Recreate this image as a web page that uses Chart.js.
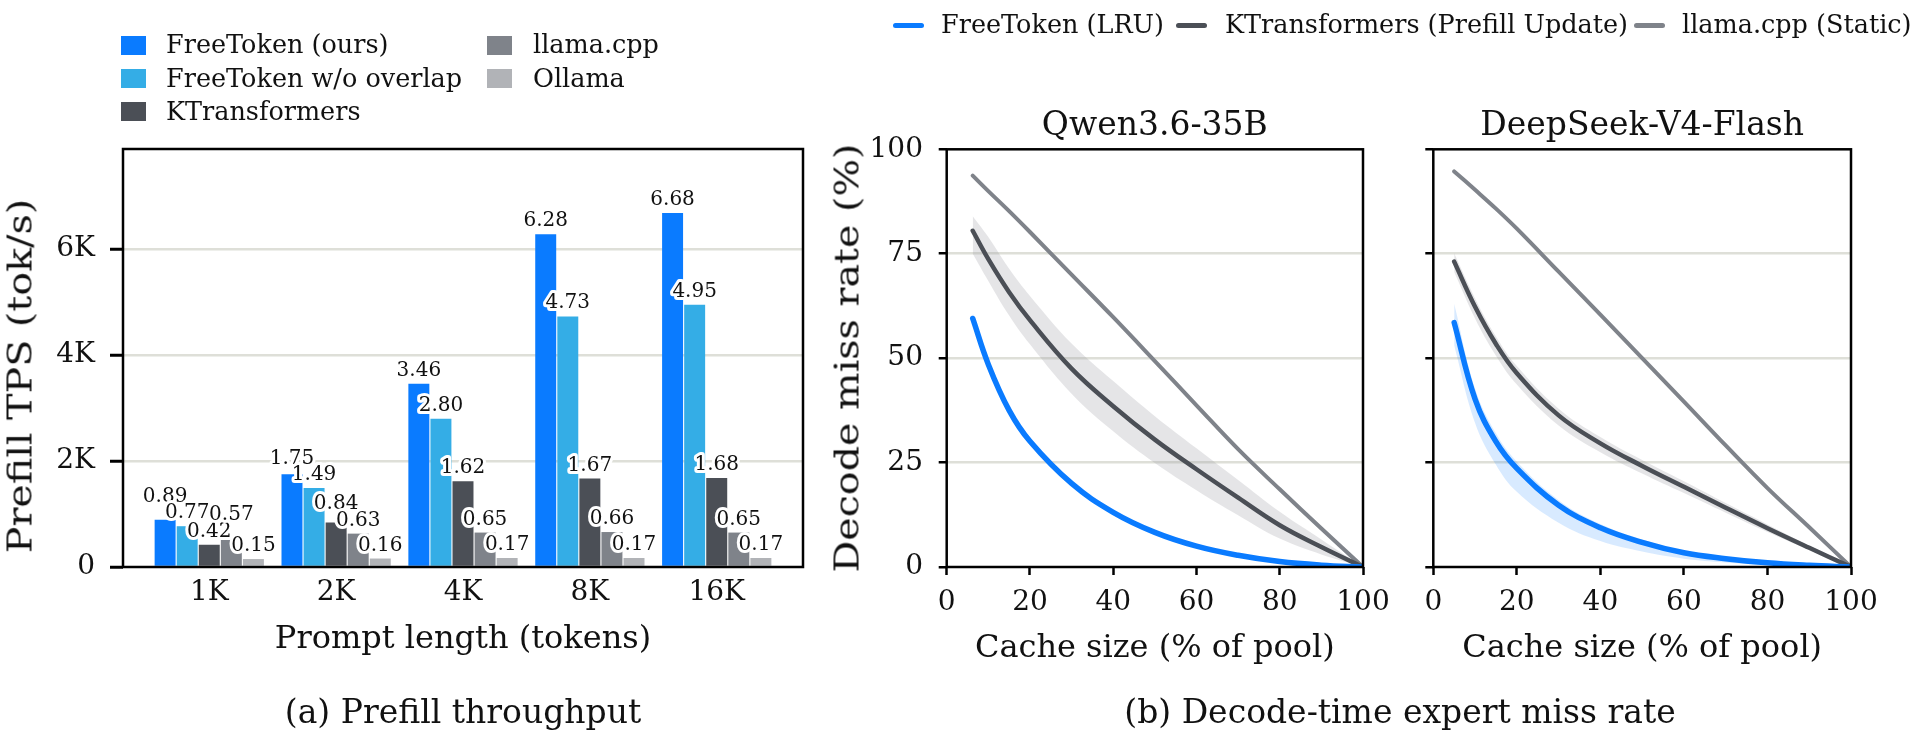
<!DOCTYPE html>
<html><head><meta charset="utf-8">
<script src="https://cdn.jsdelivr.net/npm/chart.js@4.4.1/dist/chart.umd.min.js"></script>
<style>
html,body{margin:0;padding:0;background:#fff;width:1920px;height:735px;overflow:hidden;font-family:"DejaVu Serif",serif;color:#111;}
canvas{position:absolute;top:0;}
.lt{position:absolute;font-size:25.5px;line-height:25.5px;white-space:nowrap;}
.sq{position:absolute;width:25px;height:19px;}
.hl{position:absolute;width:31px;height:5px;border-radius:3px;}
.cap{position:absolute;font-size:33px;line-height:1;white-space:nowrap;transform:translate(-50%,-50%);}
.yt{position:absolute;font-size:33px;line-height:1;white-space:nowrap;transform:translate(-50%,-50%) rotate(-90deg) scaleX(1.2);}
</style></head>
<body>
<canvas id="cA" width="840" height="735" style="left:0px"></canvas>
<canvas id="cB1" width="600" height="735" style="left:820px"></canvas>
<canvas id="cB2" width="540" height="735" style="left:1380px"></canvas>
<div id="legA"></div>
<div id="legB"></div>
<div class="yt" style="left:20px;top:376px">Prefill TPS (tok/s)</div>
<div class="yt" style="left:847px;top:358px">Decode miss rate (%)</div>
<div class="cap" style="left:463px;top:711px">(a) Prefill throughput</div>
<div class="cap" style="left:1400px;top:711px">(b) Decode-time expert miss rate</div>
<script>
// ---------- data: panel (a) ----------
const prompts = ['1K','2K','4K','8K','16K'];
const freeToken = [0.89, 1.75, 3.46, 6.28, 6.68];
const freeTokenNoOverlap = [0.77, 1.49, 2.80, 4.73, 4.95];
const kTransformers = [0.42, 0.84, 1.62, 1.67, 1.68];
const llamaCpp = [0.57, 0.63, 0.65, 0.66, 0.65];
const ollama = [0.15, 0.16, 0.17, 0.17, 0.17];
const prefillTicks = [0, 2, 4, 6];
const barNames = ['FreeToken (ours)', 'FreeToken w/o overlap', 'KTransformers', 'llama.cpp', 'Ollama'];

// ---------- data: panel (b) ----------
const cacheTicks = [0, 20, 40, 60, 80, 100];
const missTicks = [0, 25, 50, 75, 100];
const lineNames = ['FreeToken (LRU)', 'KTransformers (Prefill Update)', 'llama.cpp (Static)'];

const qwenX      = [6.25, 10, 15, 20, 30, 40, 50, 60, 70, 80, 90, 100];
const qwenLRU    = [59.5, 48.5, 37.5, 30.1, 20.0, 13.1, 8.3, 5.0, 2.8, 1.3, 0.45, 0];
const qwenLRUHi  = [60.8, 49.6, 38.5, 31.0, 20.7, 13.6, 8.7, 5.3, 3.0, 1.4, 0.5, 0];
const qwenLRULo  = [58.6, 47.6, 36.7, 29.3, 19.4, 12.6, 7.9, 4.7, 2.6, 1.2, 0.4, 0];
const qwenKT     = [80.5, 73.7, 65.8, 59.1, 47.5, 38.5, 30.5, 23.4, 16.6, 10.0, 4.8, 0];
const qwenKTHi   = [84.0, 79.0, 71.4, 64.9, 53.5, 44.5, 36.1, 28.4, 20.8, 13.2, 6.6, 0];
const qwenKTLo   = [75.0, 68.5, 60.2, 53.3, 41.5, 32.5, 24.9, 18.4, 12.4, 6.8, 3.0, 0];
const qwenLlama  = [93.7, 90.0, 85.2, 80.2, 70.0, 59.8, 49.3, 38.7, 28.2, 18.6, 9.2, 0];

const dsX        = [5, 10, 15, 20, 30, 40, 50, 60, 70, 80, 90, 100];
const dsLRU      = [58.5, 40.2, 30.0, 23.6, 14.8, 9.4, 5.9, 3.4, 2.0, 1.0, 0.4, 0];
const dsLRUHi    = [63.0, 42.7, 32.0, 25.2, 16.0, 10.3, 6.6, 3.9, 2.3, 1.2, 0.5, 0];
const dsLRULo    = [53.0, 34.5, 24.5, 18.0, 10.6, 6.2, 3.7, 2.0, 1.1, 0.5, 0.2, 0];
const dsKT       = [73.1, 62.3, 53.4, 46.4, 36.3, 29.6, 24.2, 19.2, 14.2, 9.3, 4.6, 0];
const dsKTHi     = [75.1, 64.3, 55.2, 48.1, 37.9, 31.1, 25.6, 20.5, 15.3, 10.2, 5.1, 0];
const dsKTLo     = [70.6, 59.5, 50.6, 43.7, 33.9, 27.5, 22.4, 17.7, 13.0, 8.4, 4.1, 0];
const dsLlama    = [94.7, 90.3, 85.8, 81.0, 70.7, 60.4, 50.0, 39.6, 29.1, 18.9, 9.5, 0];

// ---------- styles ----------
const FONT = '"DejaVu Serif", serif';
const barColors = ['#0a7bff', '#34ade6', '#4b4f56', '#7f838a', '#b1b3b7'];
const lineColors = ['#0a7bff', '#4b4f56', '#7f838a'];
const GRID = '#dedfd8';
const NONE = 'rgba(0,0,0,0)';
Chart.defaults.font.family = FONT;
Chart.defaults.color = '#111';

// ---------- legends (HTML) ----------
(function(){
  const legA = document.getElementById('legA');
  const rowsY = [45, 78.3, 111.7];
  barNames.forEach((name, k) => {
    const col = k < 3 ? 0 : 1, row = k < 3 ? k : k - 3;
    const sx = col === 0 ? 121 : 487, tx = col === 0 ? 166 : 533;
    const cy = rowsY[row];
    legA.insertAdjacentHTML('beforeend',
      `<div class="sq" style="left:${sx}px;top:${cy-9.5}px;background:${barColors[k]}"></div>` +
      `<div class="lt" style="left:${tx}px;top:${cy-12.75}px">${name}</div>`);
  });
  const legB = document.getElementById('legB');
  const hx = [893, 1176, 1634], tx = [941, 1225, 1682];
  lineNames.forEach((name, k) => {
    legB.insertAdjacentHTML('beforeend',
      `<div class="hl" style="left:${hx[k]}px;top:22.5px;background:${lineColors[k]}"></div>` +
      `<div class="lt" style="left:${tx[k]}px;top:12.25px">${name}</div>`);
  });
})();

// ---------- plugins ----------
const frame = {
  id: 'frame',
  afterDraw(chart) {
    const {ctx, chartArea: a} = chart;
    ctx.save();
    ctx.lineWidth = 2.5; ctx.strokeStyle = '#000';
    ctx.strokeRect(a.left, a.top, a.right - a.left, a.bottom - a.top);
    ctx.restore();
  }
};

const barLabels = {
  id: 'barLabels',
  afterDatasetsDraw(chart) {
    const ctx = chart.ctx;
    ctx.save();
    ctx.font = '20px ' + FONT;
    ctx.textAlign = 'center';
    ctx.textBaseline = 'alphabetic';
    const n = chart.data.datasets.length;
    const groups = chart.data.datasets[0].data.length;
    const capH = 14.5, gap = 8, minSep = 2;
    for (let i = 0; i < groups; i++) {
      const items = [];
      for (let d = 0; d < n; d++) {
        const el = chart.getDatasetMeta(d).data[i];
        const v = chart.data.datasets[d].data[i].y;
        items.push({x: el.x, v, base: el.y - gap});
      }
      for (let pass = 0; pass < 3; pass++) {
        for (let d = 0; d < n - 1; d++) {
          const a = items[d], b = items[d + 1];
          const aTop = a.base - capH, bTop = b.base - capH;
          if (a.base > bTop - minSep && b.base > aTop - minSep) {
            if (a.v >= b.v) a.base = bTop - minSep; else b.base = aTop - minSep;
          }
        }
      }
      items.forEach(it => {
        const t = it.v.toFixed(2);
        ctx.lineWidth = 6; ctx.strokeStyle = '#fff'; ctx.lineJoin = 'round';
        ctx.strokeText(t, it.x, it.base);
        ctx.fillStyle = '#111';
        ctx.fillText(t, it.x, it.base);
      });
    }
    ctx.restore();
  }
};

// ---------- panel (a) ----------
const barSeries = [freeToken, freeTokenNoOverlap, kTransformers, llamaCpp, ollama];
new Chart(document.getElementById('cA'), {
  type: 'bar',
  data: {
    datasets: barSeries.map((vals, k) => ({
      label: barNames[k],
      data: prompts.map((_, i) => ({x: i, y: vals[i]})),
      backgroundColor: barColors[k],
      borderWidth: 0,
      categoryPercentage: 0.87,
      barPercentage: 0.95
    }))
  },
  options: {
    responsive: false, animation: false, devicePixelRatio: 1,
    layout: {padding: {left: 0, top: 149, right: 37, bottom: 0}},
    plugins: {legend: {display: false}, tooltip: {enabled: false}, title: {display: false}},
    scales: {
      x: {
        type: 'linear', min: -0.68, max: 4.68, offset: false,
        afterBuildTicks: s => { s.ticks = prompts.map((_, i) => ({value: i})); },
        ticks: {callback: v => prompts[v], font: {size: 28}, color: '#111', padding: 9.2, autoSkip: false, maxRotation: 0},
        grid: {display: false, drawTicks: false, offset: false},
        border: {display: false},
        afterFit: s => { s.height = 168; },
        title: {display: true, text: 'Prompt length (tokens)', font: {size: 32}, color: '#111', padding: {top: 0, bottom: 75.8}}
      },
      y: {
        min: 0, max: 7.89,
        afterBuildTicks: s => { s.ticks = prefillTicks.map(v => ({value: v})); },
        ticks: {callback: v => v === 0 ? '0' : v + 'K', font: {size: 28}, color: '#111', padding: 15},
        grid: {color: c => (c.tick && c.tick.value > 0) ? GRID : NONE, lineWidth: 2.5, tickLength: 13, tickColor: '#000', tickWidth: 3},
        border: {display: false},
        afterFit: s => { s.width = 123; }
      }
    }
  },
  plugins: [barLabels, frame]
});

// ---------- panel (b) ----------
const pts = (xs, ys) => xs.map((x, i) => ({x, y: ys[i]}));
function lineDs(data, color, width) {
  return {data, borderColor: color, borderWidth: width, pointRadius: 0, fill: false,
          tension: 0.4, borderCapStyle: 'round', borderJoinStyle: 'round'};
}
function bandDs(data, color, fillNext) {
  return {data, borderColor: NONE, borderWidth: 0, pointRadius: 0, backgroundColor: color,
          fill: fillNext ? '+1' : false, tension: 0.4};
}
function missChart(id, title, xs, lru, lruHi, lruLo, kt, ktHi, ktLo, ll, yWidth, padRight, showY) {
  new Chart(document.getElementById(id), {
    type: 'line',
    data: {
      datasets: [
        lineDs(pts(xs, lru), lineColors[0], 5.5),
        lineDs(pts(xs, kt), lineColors[1], 4.5),
        lineDs(pts(xs, ll), lineColors[2], 4),
        bandDs(pts(xs, lruHi), 'rgba(10,123,255,0.16)', true),
        bandDs(pts(xs, lruLo), NONE, false),
        bandDs(pts(xs, ktHi), 'rgba(150,152,158,0.25)', true),
        bandDs(pts(xs, ktLo), NONE, false)
      ]
    },
    options: {
      responsive: false, animation: false, devicePixelRatio: 1,
      layout: {padding: {left: 0, top: 0, right: padRight, bottom: 0}},
      plugins: {
        legend: {display: false}, tooltip: {enabled: false},
        title: {display: true, text: title, fullSize: false, color: '#111',
                font: {size: 33, weight: 'normal'}, padding: {top: 107, bottom: 2.7}}
      },
      scales: {
        x: {
          type: 'linear', min: 0, max: 100,
          afterBuildTicks: s => { s.ticks = cacheTicks.map(v => ({value: v})); },
          ticks: {callback: v => String(v), font: {size: 28}, color: '#111', padding: 10.5, autoSkip: false, maxRotation: 0},
          grid: {drawOnChartArea: false, drawTicks: true, tickLength: 8, tickColor: '#000', tickWidth: 2.5},
          border: {display: false},
          afterFit: s => { s.height = 168; },
          title: {display: true, text: 'Cache size (% of pool)', font: {size: 32}, color: '#111', padding: {top: 0, bottom: 66.8}}
        },
        y: {
          min: 0, max: 100,
          afterBuildTicks: s => { s.ticks = missTicks.map(v => ({value: v})); },
          ticks: {callback: v => showY ? String(v) : '', font: {size: 28}, color: '#111', padding: 15.7},
          grid: {color: c => (c.tick && c.tick.value > 0 && c.tick.value < 100) ? GRID : NONE, lineWidth: 2.5,
                 tickLength: 8, tickColor: '#000', tickWidth: 2.5},
          border: {display: false},
          afterFit: s => { s.width = yWidth; }
        }
      }
    },
    plugins: [frame]
  });
}
missChart('cB1', 'Qwen3.6-35B', qwenX, qwenLRU, qwenLRUHi, qwenLRULo, qwenKT, qwenKTHi, qwenKTLo, qwenLlama, 126.7, 57, true);
missChart('cB2', 'DeepSeek-V4-Flash', dsX, dsLRU, dsLRUHi, dsLRULo, dsKT, dsKTHi, dsKTLo, dsLlama, 53.3, 69, false);
</script>
</body></html>
